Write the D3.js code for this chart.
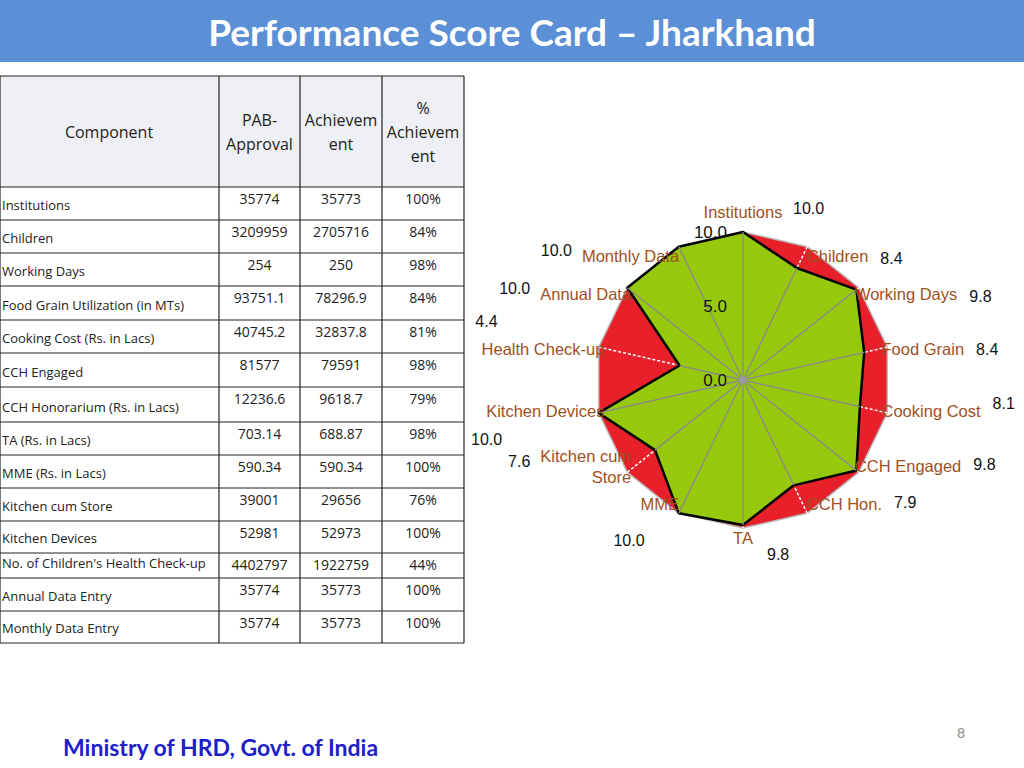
<!DOCTYPE html><html><head><meta charset="utf-8">
<script src="https://cdn.jsdelivr.net/npm/d3@7"></script>
<style>body{margin:0;background:#fff}svg{display:block}</style></head><body>
<svg id="c" width="1024" height="768"></svg>
<script>
const components=["Institutions","Children","Working Days","Food Grain Utilization (in MTs)","Cooking Cost    (Rs. in Lacs)","CCH Engaged","CCH Honorarium (Rs. in Lacs)","TA  (Rs. in Lacs)","MME (Rs. in Lacs)","Kitchen cum Store","Kitchen Devices","No. of Children's Health Check-up","Annual Data Entry","Monthly Data Entry"];
const pab=["35774","3209959","254","93751.1","40745.2","81577","12236.6","703.14","590.34","39001","52981","4402797","35774","35774"];
const ach=["35773","2705716","250","78296.9","32837.8","79591","9618.7","688.87","590.34","29656","52973","1922759","35773","35773"];
const pct=["100%","84%","98%","84%","81%","98%","79%","98%","100%","76%","100%","44%","100%","100%"];
const axes=["Institutions","Children","Working Days","Food Grain","Cooking Cost","CCH Engaged","CCH Hon.","TA","MME","Kitchen cum|Store","Kitchen Devices","Health Check-up","Annual Data","Monthly Data"];
const scores=[10.0,8.4,9.8,8.4,8.1,9.8,7.9,9.8,10.0,7.6,10.0,4.4,10.0,10.0];
const ringTicks=[0,5,10];

const svg=d3.select("#c");
svg.append("rect").attr("width",1024).attr("height",62).attr("fill","#5b8fd6");
svg.append("text").attr("x",512).attr("y",46).attr("text-anchor","middle").attr("fill","#fff")
 .attr("font-family","Lato, 'Open Sans', sans-serif").attr("font-weight","bold").attr("font-size",37)
 .text("Performance Score Card – Jharkhand");
svg.append("text").attr("x",63).attr("y",756).attr("fill","#2020c8").attr("font-family","Lato, 'Open Sans', sans-serif")
 .attr("font-weight","bold").attr("font-size",23).text("Ministry of HRD, Govt. of India");
svg.append("text").attr("x",957).attr("y",738).attr("fill","#888").attr("font-family","Lato, sans-serif").attr("font-size",14).text("8");

const cols=[0,219,300,382,464];
const rowB=[76,187,220,253,286,320,353,387,422,455,488,521,553,578,611,643];
const tf="'Open Sans', Lato, sans-serif";
const t=svg.append("g").attr("font-family",tf).attr("fill","#222");
t.append("rect").attr("x",0).attr("y",76).attr("width",464).attr("height",111).attr("fill","#eef0f5");
const hdr=[["Component"],["PAB-","Approval"],["Achievem","ent"],["%","Achievem","ent"]];
hdr.forEach((lines,i)=>{const cx=(cols[i]+cols[i+1])/2;const n=lines.length;
 lines.forEach((l,j)=>t.append("text").attr("x",i==0?109:cx).attr("y",138+(j-(n-1)/2)*24).attr("text-anchor","middle").attr("font-size",16).text(l));});
components.forEach((c,i)=>{const y0=rowB[i+1],y1=rowB[i+2];
 t.append("text").attr("x",2).attr("y",y1-10).attr("font-size",13).text(c);
 [pab[i],ach[i],pct[i]].forEach((v,k)=>t.append("text").attr("x",(cols[k+1]+cols[k+2])/2).attr("y",y0+17).attr("text-anchor","middle").attr("font-size",14).text(v));});
const lines=svg.append("g").attr("stroke","#222").attr("stroke-width",1.2);
rowB.forEach(y=>lines.append("line").attr("x1",0).attr("x2",464).attr("y1",y).attr("y2",y));
cols.forEach(x=>lines.append("line").attr("x1",x).attr("x2",x).attr("y1",76).attr("y2",643));

const cx=743,cy=380,R=148,N=axes.length;
const r=d3.scaleLinear().domain([0,10]).range([0,R]);
const ang=i=>i*2*Math.PI/N;
const pt=(i,v)=>[cx+r(v)*Math.sin(ang(i)),cy-r(v)*Math.cos(ang(i))];
const g=svg.append("g");
g.append("polygon").attr("points",axes.map((a,i)=>pt(i,10).join(",")).join(" ")).attr("fill","#e8202a").attr("stroke","#bbb").attr("stroke-width",1.5);
axes.forEach((a,i)=>{g.append("line").attr("x1",cx).attr("y1",cy).attr("x2",pt(i,10)[0]).attr("y2",pt(i,10)[1]).attr("stroke","#fff").attr("stroke-dasharray","3,2").attr("stroke-width",1.5);});
g.append("polygon").attr("points",scores.map((v,i)=>pt(i,v).join(",")).join(" ")).attr("fill","#96c80c").attr("stroke","#000").attr("stroke-width",2.5).attr("stroke-linejoin","round");
axes.forEach((a,i)=>{const p=pt(i,scores[i]);g.append("line").attr("x1",cx).attr("y1",cy).attr("x2",p[0]).attr("y2",p[1]).attr("stroke","#8a8a8a").attr("stroke-width",1.3);});
g.append("circle").attr("cx",cx).attr("cy",cy).attr("r",4).attr("fill","#999");
ringTicks.forEach(v=>g.append("text").attr("x",cx-16).attr("y",cy-r(v)+6).attr("text-anchor","end").attr("font-family","'Liberation Sans',Arial,sans-serif").attr("font-size",17).attr("fill","#111").text(v.toFixed(1)));
const lf="'Liberation Sans',Arial,sans-serif";
axes.forEach((a,i)=>{
 const s=Math.sin(ang(i)),c=Math.cos(ang(i));
 const side=Math.abs(s)<0.1?0:(s>0?1:-1);
 const lr=side==0?(c>0?168:158):138;
 const x=cx+lr*s+side*4,y=cy-lr*c+6;
 const parts=a.split("|");
 const tx=g.append("text").attr("x",x).attr("y",y-(parts.length-1)*10).attr("text-anchor",side==0?"middle":(side>0?"start":"end"))
  .attr("font-family",lf).attr("font-size",16.5).attr("fill","#a0501e");
 parts.forEach((p,j)=>tx.append("tspan").attr("x",x).attr("dy",j?21:0).text(p));
 const w=d3.max(tx.selectAll("tspan").nodes(),n=>n.getComputedTextLength());
 let vx,vy,anc="start";
 if(side==0){ if(c>0){vx=x+50;vy=y-4;} else {vx=x+24;vy=y+16;} }
 else if(side>0){ vx=x+w+12; vy=y+(c>0.5?2:(c<-0.5?-2:(c<0?-8:0))); }
 else {
  anc="end";
  if(Math.abs(c)<0.35){ vx=x-w+16; vy=c>0?y-28:y+28; }
  else if(parts.length>1){ vx=x-w-10; vy=y-5; }
  else if(c<0){ vx=x-w+4; vy=y+36; }
  else { vx=x-w-10; vy=y-6; }
 }
 g.append("text").attr("x",vx).attr("y",vy).attr("text-anchor",anc).attr("font-family",lf).attr("font-size",16).attr("fill","#111").text(scores[i].toFixed(1));
});
</script></body></html>
